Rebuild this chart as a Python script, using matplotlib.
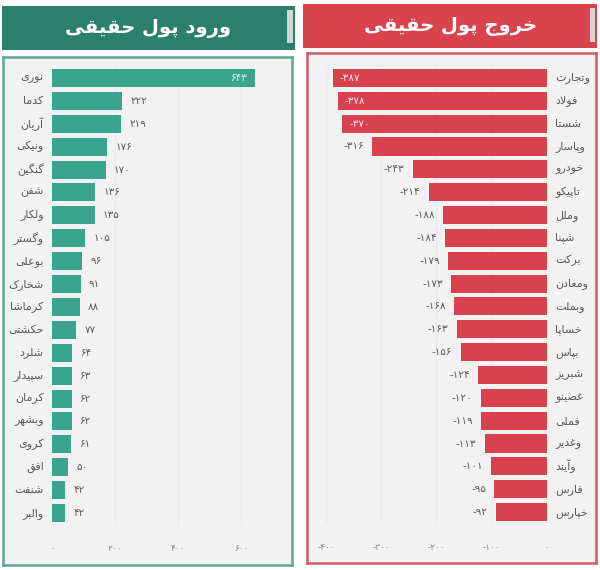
import matplotlib
matplotlib.use("Agg")
import matplotlib.pyplot as plt
from matplotlib.ticker import FixedLocator, FuncFormatter

plt.rcParams['font.family'] = ['DejaVu Sans']

# data
inflow_title = "ورود پول حقیقی"
outflow_title = "خروج پول حقیقی"

inflow_names = ["نوری", "کدما", "آریان", "ونیکی", "گنگین", "شفن", "ولکار", "وگستر",
                "بوعلی", "شخارک", "کرماشا", "حکشتی", "شلرد", "سپیدار", "کرمان",
                "وبشهر", "کروی", "افق", "شنفت", "والبر"]
inflow_values = [643, 222, 219, 176, 170, 136, 135, 105, 96, 91, 88, 77, 64, 63,
                 62, 62, 61, 50, 42, 42]

outflow_names = ["وتجارت", "فولاد", "شستا", "وپاسار", "خودرو", "تاپیکو", "وملل",
                 "شپنا", "برکت", "ومعادن", "وبملت", "خساپا", "بپاس", "شبریز",
                 "غصینو", "فملی", "وغدیر", "وآیند", "فارس", "خپارس"]
outflow_values = [-387, -378, -370, -316, -243, -214, -188, -184, -179, -173, -168,
                  -163, -156, -124, -120, -119, -113, -101, -95, -92]

inflow_ticks = [0, 200, 400, 600]
outflow_ticks = [-400, -300, -200, -100, 0]

GREEN_HEAD = "#2b806c"
GREEN_BAR = "#3aa58f"
GREEN_EDGE = "#5aa894"
RED_HEAD = "#d8434e"
RED_BAR = "#d8424f"
RED_EDGE = "#d25a66"
BOX_BG = "#f2f2f2"
LABEL_C = "#5a5a5a"
TICK_C = "#8a8a8a"

# --- small arabic/persian shaper (matplotlib has no text shaping) ---
# letter: (isolated, final, initial, medial); None = no such form
FORMS = {
    "ء": (0xFE80, None, None, None),
    "آ": (0xFE81, 0xFE82, None, None),
    "أ": (0xFE83, 0xFE84, None, None),
    "ا": (0xFE8D, 0xFE8E, None, None),
    "ب": (0xFE8F, 0xFE90, 0xFE91, 0xFE92),
    "ت": (0xFE95, 0xFE96, 0xFE97, 0xFE98),
    "ث": (0xFE99, 0xFE9A, 0xFE9B, 0xFE9C),
    "ج": (0xFE9D, 0xFE9E, 0xFE9F, 0xFEA0),
    "ح": (0xFEA1, 0xFEA2, 0xFEA3, 0xFEA4),
    "خ": (0xFEA5, 0xFEA6, 0xFEA7, 0xFEA8),
    "د": (0xFEA9, 0xFEAA, None, None),
    "ذ": (0xFEAB, 0xFEAC, None, None),
    "ر": (0xFEAD, 0xFEAE, None, None),
    "ز": (0xFEAF, 0xFEB0, None, None),
    "س": (0xFEB1, 0xFEB2, 0xFEB3, 0xFEB4),
    "ش": (0xFEB5, 0xFEB6, 0xFEB7, 0xFEB8),
    "ص": (0xFEB9, 0xFEBA, 0xFEBB, 0xFEBC),
    "ض": (0xFEBD, 0xFEBE, 0xFEBF, 0xFEC0),
    "ط": (0xFEC1, 0xFEC2, 0xFEC3, 0xFEC4),
    "ظ": (0xFEC5, 0xFEC6, 0xFEC7, 0xFEC8),
    "ع": (0xFEC9, 0xFECA, 0xFECB, 0xFECC),
    "غ": (0xFECD, 0xFECE, 0xFECF, 0xFED0),
    "ف": (0xFED1, 0xFED2, 0xFED3, 0xFED4),
    "ق": (0xFED5, 0xFED6, 0xFED7, 0xFED8),
    "ل": (0xFEDD, 0xFEDE, 0xFEDF, 0xFEE0),
    "م": (0xFEE1, 0xFEE2, 0xFEE3, 0xFEE4),
    "ن": (0xFEE5, 0xFEE6, 0xFEE7, 0xFEE8),
    "ه": (0xFEE9, 0xFEEA, 0xFEEB, 0xFEEC),
    "و": (0xFEED, 0xFEEE, None, None),
    "پ": (0xFB56, 0xFB57, 0xFB58, 0xFB59),
    "چ": (0xFB7A, 0xFB7B, 0xFB7C, 0xFB7D),
    "ژ": (0xFB8A, 0xFB8B, None, None),
    "ک": (0xFB8E, 0xFB8F, 0xFB90, 0xFB91),
    "گ": (0xFB92, 0xFB93, 0xFB94, 0xFB95),
    "ی": (0xFBFC, 0xFBFD, 0xFBFE, 0xFBFF),
}
LAM_ALEF = {"ا": (0xFEFB, 0xFEFC), "آ": (0xFEF5, 0xFEF6)}


def dual(ch):
    return ch in FORMS and FORMS[ch][2] is not None


def shape(text):
    out = []
    i = 0
    n = len(text)
    while i < n:
        ch = text[i]
        prev = text[i - 1] if i > 0 else ""
        joins_prev = dual(prev)
        if ch == "ل" and i + 1 < n and text[i + 1] in LAM_ALEF:
            iso, fin = LAM_ALEF[text[i + 1]]
            out.append(chr(fin if joins_prev else iso))
            i += 2
            continue
        if ch not in FORMS:
            out.append(ch)
            i += 1
            continue
        nxt = text[i + 1] if i + 1 < n else ""
        joins_next = dual(ch) and nxt in FORMS
        iso, fin, ini, med = FORMS[ch]
        if joins_prev and joins_next:
            code = med
        elif joins_prev:
            code = fin
        elif joins_next:
            code = ini
        else:
            code = iso
        out.append(chr(code))
        i += 1
    return "".join(reversed(out))


FA_DIGITS = str.maketrans("0123456789", "۰۱۲۳۴۵۶۷۸۹")


def fa_num(v):
    s = str(int(round(v)))
    return s.translate(FA_DIGITS)


W, H = 600, 570
fig = plt.figure(figsize=(6, 5.7), dpi=100)
fig.patch.set_facecolor("white")


def px_rect(x0, y0, x1, y1):
    return [x0 / W, 1 - y1 / H, (x1 - x0) / W, (y1 - y0) / H]


def draw_panel(head, box, axr, handle, title, head_color, edge_color):
    hax = fig.add_axes(px_rect(*head))
    hax.set_facecolor(head_color)
    for sp in hax.spines.values():
        sp.set_visible(False)
    hax.set_xticks([])
    hax.set_yticks([])
    hax.text(0.5, 0.5, shape(title), color="white", fontsize=14, fontweight="bold",
             ha="center", va="center", transform=hax.transAxes)
    gax = fig.add_axes(px_rect(*handle))
    gax.set_facecolor("#d4d4d4")
    for sp in gax.spines.values():
        sp.set_visible(False)
    gax.set_xticks([])
    gax.set_yticks([])

    bax = fig.add_axes(px_rect(*box))
    bax.set_facecolor(BOX_BG)
    for sp in bax.spines.values():
        sp.set_color(edge_color)
        sp.set_linewidth(1.8)
    bax.set_xticks([])
    bax.set_yticks([])

    ax = fig.add_axes(px_rect(*axr))
    ax.patch.set_alpha(0)
    for sp in ax.spines.values():
        sp.set_visible(False)
    return ax


def style_axis(ax, ticks, xlim):
    n = len(inflow_names)
    ax.set_ylim(n - 0.5, -0.5)
    ax.set_xlim(*xlim)
    ax.xaxis.set_major_locator(FixedLocator(ticks))
    ax.xaxis.set_major_formatter(FuncFormatter(lambda v, p: fa_num(v) if v >= 0 else "-" + fa_num(-v)))
    ax.tick_params(axis="x", length=0, pad=14, labelsize=6.5, labelcolor=TICK_C)
    ax.set_yticks([])
    for t in ticks:
        if t != 0:
            ax.axvline(t, color="#e9e9e9", lw=0.8, zorder=0)


# left panel: inflow
axl = draw_panel((2, 6, 295, 50), (3, 57, 292, 565), (52, 66.5, 275, 524.5),
                 (287, 10, 293, 43), inflow_title, GREEN_HEAD, GREEN_EDGE)
ypos = list(range(len(inflow_names)))
axl.barh(ypos, inflow_values, height=0.79, color=GREEN_BAR, zorder=2)
style_axis(axl, inflow_ticks, (0, 708))
for y, name, v in zip(ypos, inflow_names, inflow_values):
    axl.annotate(shape(name), (0, y), xytext=(-6, 0), textcoords="offset points",
                 ha="right", va="center", fontsize=8, color=LABEL_C)
    if v > 500:
        axl.annotate(fa_num(v), (v, y), xytext=(-5, 0), textcoords="offset points",
                     ha="right", va="center", fontsize=7.5, color="#dff2ec")
    else:
        axl.annotate(fa_num(v), (v, y), xytext=(6, 0), textcoords="offset points",
                     ha="left", va="center", fontsize=7.5, color=LABEL_C)

# right panel: outflow
axr = draw_panel((303, 4, 597, 48), (307, 53, 596, 563), (312, 66.5, 547, 523.5),
                 (590, 8, 595, 42), outflow_title, RED_HEAD, RED_EDGE)
axr.barh(ypos, outflow_values, height=0.79, color=RED_BAR, zorder=2)
style_axis(axr, outflow_ticks, (-425, 0))
for y, name, v in zip(ypos, outflow_names, outflow_values):
    axr.annotate(shape(name), (0, y), xytext=(6, 0), textcoords="offset points",
                 ha="left", va="center", fontsize=8, color=LABEL_C)
    txt = "-" + fa_num(-v)
    if v < -350:
        axr.annotate(txt, (v, y), xytext=(5, 0), textcoords="offset points",
                     ha="left", va="center", fontsize=7.5, color="#fbe3e5")
    else:
        axr.annotate(txt, (v, y), xytext=(-6, 0), textcoords="offset points",
                     ha="right", va="center", fontsize=7.5, color=LABEL_C)

fig.savefig("out.png", dpi=100, facecolor="white")
